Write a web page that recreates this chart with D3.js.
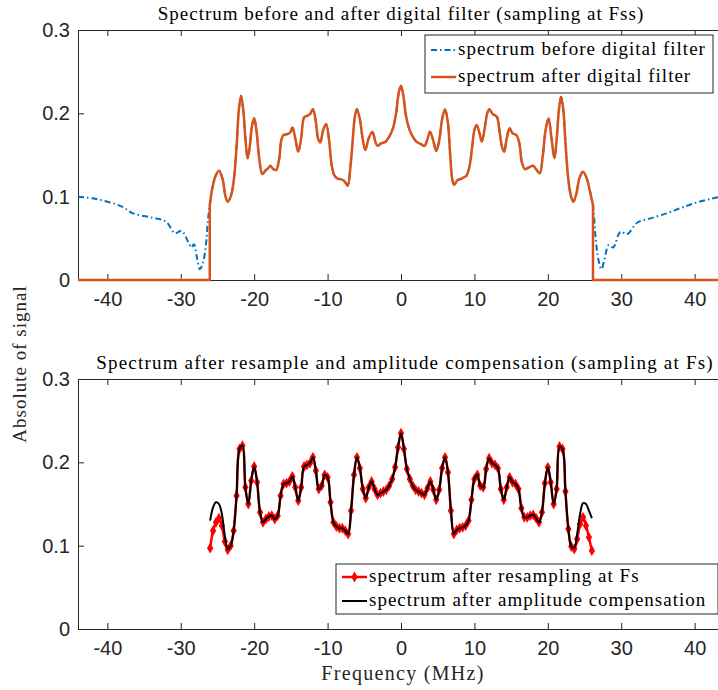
<!DOCTYPE html>
<html>
<head>
<meta charset="utf-8">
<script src="https://cdn.jsdelivr.net/npm/d3@7"></script>
<style>
body { margin: 0; background: #fff; }
svg { display: block; }
</style>
</head>
<body>
<div id="chart"></div>
<script>
// ticks
var xTicks = [-40, -30, -20, -10, 0, 10, 20, 30, 40];
var yTicks = [0, 0.1, 0.2, 0.3];

// spectrum sampled at Fss, outside the filter band (MHz / abs)
var stopLeftFreq = [-44, -42, -40, -38, -36.5, -34, -32, -30.8, -29.9, -29.0, -28.55, -28.2, -27.8, -27.4, -27.0, -26.6, -26.3];
var stopLeftMag = [0.100, 0.098, 0.094, 0.088, 0.080, 0.075, 0.070, 0.056, 0.059, 0.046, 0.039, 0.043, 0.027, 0.013, 0.020, 0.040, 0.072];
var stopRightFreq = [26.5, 26.9, 27.3, 27.7, 28.3, 28.9, 29.9, 30.8, 32.2, 34, 36.2, 38, 39.9, 42, 44];
var stopRightMag = [0.052, 0.024, 0.013, 0.024, 0.042, 0.039, 0.058, 0.055, 0.069, 0.074, 0.080, 0.086, 0.092, 0.097, 0.101];

// spectrum sampled at Fss, inside the filter band
var passFreq = [-26.05, -25.7, -25.3, -24.8, -24.3, -23.9, -23.6, -23.2, -22.8, -22.4, -22.1, -21.8, -21.5, -21.2, -20.9,
  -20.6, -20.3, -20.0, -19.7, -19.3, -18.9, -18.5, -18.1, -17.8, -17.4, -17.0, -16.6, -16.3, -16.0, -15.5,
  -15.1, -14.8, -14.4, -14.0, -13.6, -13.2, -12.8, -12.4, -12.0, -11.6, -11.3, -11.0, -10.6, -10.2, -9.8,
  -9.45, -9.1, -8.7, -8.3, -7.9, -7.5, -7.25, -6.9, -6.6, -6.3, -6.0, -5.6, -5.2, -4.85, -4.4,
  -3.9, -3.5, -3.2, -2.7, -2.1, -1.6, -1.1, -0.7, -0.3, 0.0, 0.3, 0.7, 1.1, 1.6, 2.1,
  2.7, 3.2, 3.6, 3.95, 4.4, 4.8, 5.2, 5.6, 6.0, 6.4, 6.7, 7.0, 7.25, 7.7, 8.1,
  8.5, 8.9, 9.3, 9.7, 10.0, 10.3, 10.7, 11.0, 11.4, 11.75, 12.05, 12.5, 13.05, 13.4, 13.75,
  14.05, 14.4, 14.8, 15.2, 15.7, 16.1, 16.5, 16.9, 17.4, 18.0, 18.4, 18.9, 19.3, 19.7, 20.1,
  20.5, 20.9, 21.2, 21.5, 21.8, 22.1, 22.4, 22.8, 23.2, 23.5, 23.9, 24.3, 24.8, 25.3, 25.7, 26.15];
var passMag = [0.090, 0.110, 0.124, 0.131, 0.121, 0.100, 0.094, 0.100, 0.118, 0.160, 0.203, 0.221, 0.205, 0.170, 0.146,
  0.160, 0.185, 0.194, 0.180, 0.145, 0.127, 0.131, 0.134, 0.137, 0.133, 0.132, 0.145, 0.168, 0.174, 0.175,
  0.177, 0.183, 0.170, 0.154, 0.170, 0.195, 0.197, 0.199, 0.205, 0.190, 0.170, 0.165, 0.180, 0.187, 0.168,
  0.138, 0.126, 0.122, 0.121, 0.120, 0.116, 0.113, 0.135, 0.165, 0.195, 0.205, 0.193, 0.168, 0.156, 0.170,
  0.178, 0.166, 0.161, 0.164, 0.166, 0.172, 0.182, 0.198, 0.225, 0.233, 0.222, 0.196, 0.182, 0.172, 0.166,
  0.163, 0.161, 0.169, 0.178, 0.167, 0.155, 0.167, 0.193, 0.205, 0.188, 0.150, 0.120, 0.114, 0.120, 0.121,
  0.123, 0.125, 0.135, 0.160, 0.180, 0.186, 0.176, 0.166, 0.182, 0.200, 0.205, 0.199, 0.196, 0.180, 0.160,
  0.154, 0.170, 0.182, 0.176, 0.174, 0.165, 0.140, 0.133, 0.135, 0.137, 0.133, 0.128, 0.148, 0.180, 0.194,
  0.170, 0.146, 0.168, 0.203, 0.220, 0.205, 0.165, 0.120, 0.099, 0.094, 0.104, 0.122, 0.130, 0.122, 0.108, 0.090];

// resampled at Fs
var fsFreq = [-26.0, -25.6, -25.2, -24.8, -24.4, -24.0, -23.6, -23.2, -22.8, -22.4, -22.0, -21.6, -21.2, -20.8, -20.4,
  -20.0, -19.6, -19.2, -18.8, -18.4, -18.0, -17.6, -17.2, -16.8, -16.4, -16.0, -15.6, -15.2, -14.8, -14.4,
  -14.0, -13.6, -13.2, -12.8, -12.4, -12.0, -11.6, -11.2, -10.8, -10.4, -10.0, -9.6, -9.2, -8.8, -8.4,
  -8.0, -7.6, -7.2, -6.8, -6.4, -6.0, -5.6, -5.2, -4.8, -4.4, -4.0, -3.6, -3.2, -2.8, -2.4,
  -2.0, -1.6, -1.2, -0.8, -0.4, 0.0, 0.4, 0.8, 1.2, 1.6, 2.0, 2.4, 2.8, 3.2, 3.6,
  4.0, 4.4, 4.8, 5.2, 5.6, 6.0, 6.4, 6.8, 7.2, 7.6, 8.0, 8.4, 8.8, 9.2, 9.6,
  10.0, 10.4, 10.8, 11.2, 11.6, 12.0, 12.4, 12.8, 13.2, 13.6, 14.0, 14.4, 14.8, 15.2, 15.6,
  16.0, 16.4, 16.8, 17.2, 17.6, 18.0, 18.4, 18.8, 19.2, 19.6, 20.0, 20.4, 20.8, 21.2, 21.6,
  22.0, 22.4, 22.8, 23.2, 23.6, 24.0, 24.4, 24.8, 25.2, 25.6, 26.0];
var resampledMag = [0.097, 0.118, 0.128, 0.133, 0.124, 0.105, 0.095, 0.100, 0.118, 0.160, 0.216, 0.220, 0.170, 0.150, 0.178,
  0.195, 0.176, 0.140, 0.128, 0.132, 0.135, 0.136, 0.132, 0.136, 0.160, 0.174, 0.175, 0.177, 0.183, 0.170,
  0.154, 0.170, 0.195, 0.197, 0.199, 0.206, 0.190, 0.168, 0.172, 0.185, 0.182, 0.152, 0.128, 0.123, 0.121,
  0.121, 0.118, 0.114, 0.142, 0.185, 0.206, 0.193, 0.168, 0.157, 0.170, 0.177, 0.168, 0.161, 0.163, 0.165,
  0.167, 0.172, 0.180, 0.194, 0.218, 0.235, 0.216, 0.192, 0.180, 0.172, 0.167, 0.165, 0.163, 0.161, 0.169,
  0.177, 0.167, 0.155, 0.167, 0.193, 0.206, 0.188, 0.142, 0.114, 0.119, 0.121, 0.122, 0.124, 0.130, 0.155,
  0.180, 0.185, 0.172, 0.170, 0.192, 0.205, 0.199, 0.197, 0.193, 0.168, 0.155, 0.170, 0.182, 0.176, 0.174,
  0.168, 0.145, 0.134, 0.134, 0.136, 0.137, 0.133, 0.128, 0.140, 0.175, 0.194, 0.176, 0.150, 0.168, 0.219,
  0.216, 0.165, 0.120, 0.099, 0.096, 0.108, 0.126, 0.134, 0.124, 0.110, 0.094];
var compensatedMag = [0.130, 0.146, 0.152, 0.150, 0.138, 0.112, 0.096, 0.100, 0.118, 0.160, 0.216, 0.220, 0.170, 0.150, 0.178,
  0.195, 0.176, 0.140, 0.128, 0.132, 0.135, 0.136, 0.132, 0.136, 0.160, 0.174, 0.175, 0.177, 0.183, 0.170,
  0.154, 0.170, 0.195, 0.197, 0.199, 0.206, 0.190, 0.168, 0.172, 0.185, 0.182, 0.152, 0.128, 0.123, 0.121,
  0.121, 0.118, 0.114, 0.142, 0.185, 0.206, 0.193, 0.168, 0.157, 0.170, 0.177, 0.168, 0.161, 0.163, 0.165,
  0.167, 0.172, 0.180, 0.194, 0.218, 0.235, 0.216, 0.192, 0.180, 0.172, 0.167, 0.165, 0.163, 0.161, 0.169,
  0.177, 0.167, 0.155, 0.167, 0.193, 0.206, 0.188, 0.142, 0.114, 0.119, 0.121, 0.122, 0.124, 0.130, 0.155,
  0.180, 0.185, 0.172, 0.170, 0.192, 0.205, 0.199, 0.197, 0.193, 0.168, 0.155, 0.170, 0.182, 0.176, 0.174,
  0.168, 0.145, 0.134, 0.134, 0.136, 0.137, 0.133, 0.128, 0.140, 0.175, 0.194, 0.176, 0.150, 0.168, 0.219,
  0.216, 0.165, 0.120, 0.099, 0.097, 0.114, 0.138, 0.151, 0.150, 0.142, 0.133];

var titles = ['Spectrum before and after digital filter (sampling at Fss)',
  'Spectrum after resample and amplitude compensation (sampling at Fs)'];
var legendTop = ['spectrum before digital filter', 'spectrum after digital filter'];
var legendBottom = ['spectrum after resampling at Fs', 'spectrum after amplitude compensation'];

var W = 718, H = 690;
var AX = '#262626';
var SERIF = '"Liberation Serif", "DejaVu Serif", serif';
var SANS = '"Liberation Sans", Arial, sans-serif';

var svg = d3.select('#chart').append('svg').attr('width', W).attr('height', H);

var x = d3.scaleLinear().domain([-44, 44]).range([78, 724]);
var yTop = d3.scaleLinear().domain([0, 0.3]).range([280, 30]);
var yBot = d3.scaleLinear().domain([0, 0.3]).range([629, 379]);

function pairs(fx, fy) {
    return fx.map(function(f, i) { return [f, fy[i]]; });
}

// serif text, latex-ish spacing
function serifText(sel, size, spacing) {
    return sel.style('font-family', SERIF).style('font-size', size + 'px')
        .style('letter-spacing', (spacing || 1) + 'px');
}

function drawAxes(y, name) {
    var g = svg.append('g').attr('class', 'axes-' + name);
    var r = y.range();
    g.append('g').attr('transform', 'translate(0,' + r[0] + ')')
        .call(d3.axisBottom(x).tickValues(xTicks).tickSize(-6).tickSizeOuter(0).tickPadding(12).tickFormat(String));
    g.append('g').attr('transform', 'translate(0,' + r[1] + ')')
        .call(d3.axisTop(x).tickValues(xTicks).tickSize(-6).tickSizeOuter(0).tickFormat(''));
    g.append('g').attr('transform', 'translate(' + x.range()[0] + ',0)')
        .call(d3.axisLeft(y).tickValues(yTicks).tickSize(-6).tickSizeOuter(0).tickPadding(8).tickFormat(String));
    g.append('g').attr('transform', 'translate(' + x.range()[1] + ',0)')
        .call(d3.axisRight(y).tickValues(yTicks).tickSize(-6).tickSizeOuter(0).tickFormat(''));
    g.selectAll('.domain, .tick line').attr('stroke', AX).attr('stroke-width', 1);
    g.selectAll('.tick text').attr('fill', AX).style('font-family', SANS).style('font-size', '20px');
    return g;
}

function clipFor(y, id) {
    svg.append('clipPath').attr('id', id).append('rect')
        .attr('x', x.range()[0]).attr('y', y.range()[1])
        .attr('width', x.range()[1] - x.range()[0]).attr('height', y.range()[0] - y.range()[1] + 2);
    return svg.append('g').attr('clip-path', 'url(#' + id + ')');
}

function legend(x0, y0, w, h, items) {
    var g = svg.append('g').attr('transform', 'translate(' + x0 + ',' + y0 + ')');
    g.append('rect').attr('width', w).attr('height', h)
        .attr('fill', '#fff').attr('stroke', AX).attr('stroke-width', 1);
    items.forEach(function(it, i) {
        var ly = it.y;
        g.append('line').attr('x1', 6).attr('x2', 31).attr('y1', ly).attr('y2', ly)
            .attr('stroke', it.color).attr('stroke-width', it.width)
            .attr('stroke-dasharray', it.dash || null);
        if (it.marker) {
            g.append('path').attr('d', d3.symbol(d3.symbolDiamond, 34)())
                .attr('transform', 'translate(18.5,' + ly + ')').attr('fill', it.color);
        }
        serifText(g.append('text').attr('x', 33).attr('y', ly + 5).text(it.label), 19)
            .attr('fill', '#000');
    });
}

// ---- top panel
drawAxes(yTop, 'top');
var topPlot = clipFor(yTop, 'clipTop');

var smooth = d3.line().x(function(d) { return x(d[0]); }).y(function(d) { return yTop(d[1]); })
    .curve(d3.curveCatmullRom.alpha(0.5));
var straight = d3.line().x(function(d) { return x(d[0]); }).y(function(d) { return yTop(d[1]); });

var before = pairs(stopLeftFreq, stopLeftMag).concat(pairs(passFreq, passMag), pairs(stopRightFreq, stopRightMag));
topPlot.append('path').datum(before).attr('d', smooth)
    .attr('fill', 'none').attr('stroke', '#0072BD').attr('stroke-width', 2)
    .attr('stroke-dasharray', '6,3,1.5,3');

var pass = pairs(passFreq, passMag);
var first = pass[0], last = pass[pass.length - 1];
var orange = '#D95319';
topPlot.append('path').datum([[x.domain()[0], 0], [first[0], 0], first]).attr('d', straight)
    .attr('fill', 'none').attr('stroke', orange).attr('stroke-width', 2.5);
topPlot.append('path').datum(pass).attr('d', smooth)
    .attr('fill', 'none').attr('stroke', orange).attr('stroke-width', 2.5);
topPlot.append('path').datum([last, [last[0], 0], [x.domain()[1], 0]]).attr('d', straight)
    .attr('fill', 'none').attr('stroke', orange).attr('stroke-width', 2.5);

legend(425, 35, 288, 58, [
    {label: legendTop[0], color: '#0072BD', width: 2, dash: '6,3,1.5,3', y: 15},
    {label: legendTop[1], color: orange, width: 2.5, y: 42}
]);

// ---- bottom panel
drawAxes(yBot, 'bottom');
var botPlot = clipFor(yBot, 'clipBot');
var lineB = d3.line().x(function(d) { return x(d[0]); }).y(function(d) { return yBot(d[1]); })
    .curve(d3.curveCatmullRom.alpha(0.5));

var resampled = pairs(fsFreq, resampledMag);
botPlot.append('path').datum(resampled).attr('d', lineB)
    .attr('fill', 'none').attr('stroke', '#ff0000').attr('stroke-width', 2.5);
botPlot.selectAll('.mk').data(resampled).enter().append('path').attr('class', 'mk')
    .attr('d', d3.symbol(d3.symbolDiamond, 34)())
    .attr('transform', function(d) { return 'translate(' + x(d[0]) + ',' + yBot(d[1]) + ')'; })
    .attr('fill', '#ff0000');
botPlot.append('path').datum(pairs(fsFreq, compensatedMag)).attr('d', lineB)
    .attr('fill', 'none').attr('stroke', '#000').attr('stroke-width', 2);

legend(336, 564, 382, 50, [
    {label: legendBottom[0], color: '#ff0000', width: 2.5, marker: true, y: 13},
    {label: legendBottom[1], color: '#000', width: 2, y: 37}
]);

// ---- titles and labels
serifText(svg.append('text').attr('x', 401).attr('y', 20).attr('text-anchor', 'middle').text(titles[0]), 19)
    .attr('fill', '#000');
serifText(svg.append('text').attr('x', 405).attr('y', 369).attr('text-anchor', 'middle').text(titles[1]), 19, 1.2)
    .attr('fill', '#000');
serifText(svg.append('text').attr('x', 403).attr('y', 680).attr('text-anchor', 'middle').text('Frequency (MHz)'), 20, 1.3)
    .attr('fill', AX);
serifText(svg.append('text').attr('transform', 'translate(26,364) rotate(-90)').attr('text-anchor', 'middle')
    .text('Absolute of signal'), 19)
    .attr('fill', AX);
</script>
</body>
</html>
